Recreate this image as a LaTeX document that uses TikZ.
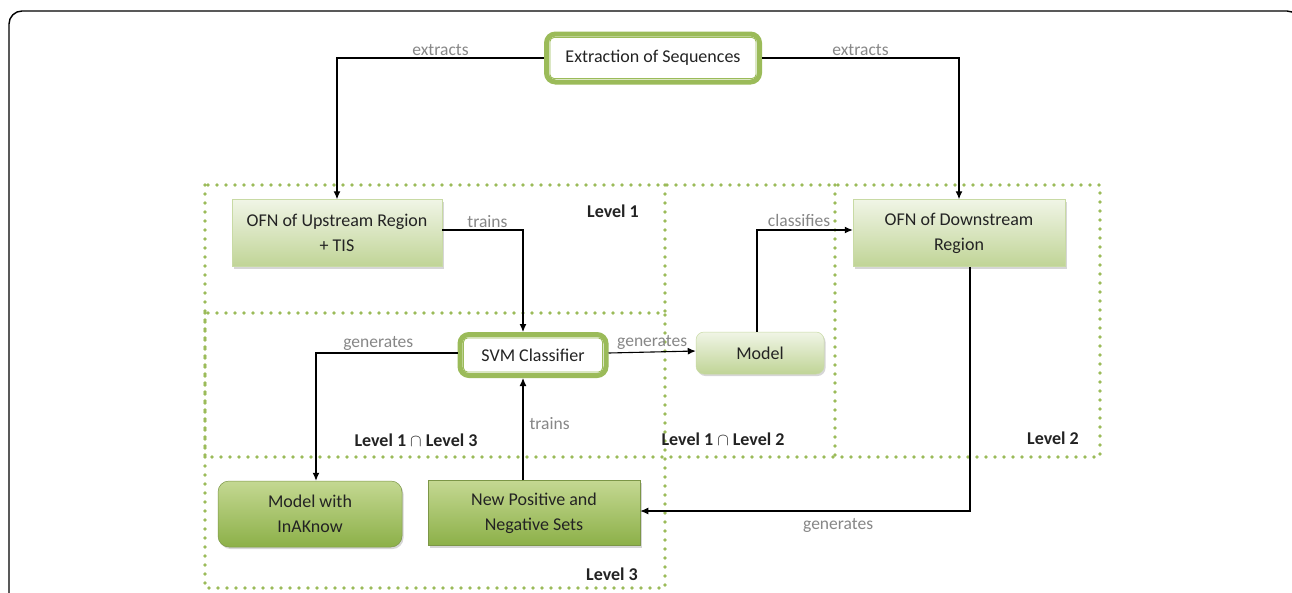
\documentclass[tikz,border=0pt]{standalone}
\usepackage{fontspec}
\setmainfont{Carlito}
\usetikzlibrary{shadows,arrows.meta}
\definecolor{ogreen}{RGB}{155,187,89}
\definecolor{lgA}{RGB}{240,245,230}
\definecolor{lgB}{RGB}{192,212,150}
\definecolor{dgA}{RGB}{196,216,146}
\definecolor{dgB}{RGB}{140,176,72}
\definecolor{lblgray}{RGB}{135,135,135}
\definecolor{txt}{RGB}{35,35,35}
\begin{document}
\begin{tikzpicture}[x=1pt,y=-1pt,
  font=\fontsize{18}{25}\selectfont,
  every node/.style={text=txt},
  shad/.style={drop shadow={shadow xshift=1.5pt,shadow yshift=-2pt,opacity=0.35,fill=black!45}},
  dblbox/.style={draw=ogreen,line width=5pt,fill=white,rounded corners=9pt,inner sep=0pt,align=center},
  innerline/.style={draw=ogreen,line width=0.9pt,rounded corners=4pt},
  lightbox/.style={shad,draw=ogreen!55,line width=0.5pt,top color=lgA,bottom color=lgB,inner sep=0pt,align=center},
  darkbox/.style={shad,draw=ogreen!80!black,line width=0.5pt,top color=dgA,bottom color=dgB,inner sep=0pt,align=center},
  conn/.style={draw=black,line width=1.1pt,-{Latex[length=8pt,width=7pt]}},
  lbl/.style={text=lblgray,font=\fontsize{17.5}{20}\selectfont,inner sep=2pt},
  lvl/.style={font=\fontsize{18}{21}\selectfont\bfseries,text=txt,inner sep=0pt},
  dots/.style={draw=ogreen,line width=3.6pt,line cap=round,dash pattern=on 0pt off 9pt}
]
\useasboundingbox (0,0) rectangle (1292,592);
\clip (0,0) rectangle (1292,592);
\fill[white] (0,0) rectangle (1292,592);
% outer frame
\draw[line width=1.4pt,rounded corners=13pt] (9,640) -- (9,11) -- (1300,11) -- (1300,640);

% dotted regions
\draw[dots] (205,185) rectangle (1100,457);
\draw[dots] (205,313) rectangle (665,588);
\draw[dots] (665,185) -- (665,313);
\draw[dots] (835,185) -- (835,457);

% level labels
\node[lvl] (l1) at (613,211) {Level 1};
\node[lvl] (l13) at (416,440) {Level 1 $\cap$ Level 3};
\node[lvl] (l12) at (723,439) {Level 1 $\cap$ Level 2};
\node[lvl] (l2) at (1053,438) {Level 2};
\node[lvl] (l3) at (612,574) {Level 3};

% nodes
\node[dblbox,minimum width=213pt,minimum height=48pt] (ext) at (653,58) {Extraction of Sequences};
\draw[innerline] ([shift={(6pt,-6pt)}]ext.north west) rectangle ([shift={(-6pt,6pt)}]ext.south east);
\node[lightbox,minimum width=210pt,minimum height=67pt] (ofnup) at (337,233) {OFN of Upstream Region\\+ TIS};
\node[lightbox,minimum width=212pt,minimum height=67pt] (ofndn) at (959,233) {OFN of Downstream\\Region};
\node[dblbox,minimum width=146pt,minimum height=41pt] (svm) at (533,355) {SVM Classifier};
\draw[innerline] ([shift={(6pt,-6pt)}]svm.north west) rectangle ([shift={(-6pt,6pt)}]svm.south east);
\node[lightbox,rounded corners=8pt,minimum width=128pt,minimum height=42pt] (model) at (760,353) {Model};
\node[darkbox,rounded corners=11pt,minimum width=184pt,minimum height=66pt] (inak) at (310,514) {Model with\\InAKnow};
\node[darkbox,minimum width=212pt,minimum height=65pt] (newps) at (534,513) {New Positive and\\Negative Sets};

% connectors
\coordinate (cx) at (523,0);
\draw[conn] (ext.west) -| node[lbl,pos=0.25,above] {extracts} (ofnup.north);
\draw[conn] (ext.east) -| node[lbl,pos=0.25,above] {extracts} (ofndn.north);
\draw[conn] ([yshift=3pt]ofnup.east) -| node[lbl,pos=0.28,above] {trains} (svm.north -| cx);
\draw[conn] ([yshift=2pt]svm.west) -| node[lbl,pos=0.28,above] {generates} ([xshift=6pt]inak.north);
\draw[conn] ([yshift=2pt]svm.east) -- node[lbl,above] {generates} ([yshift=2pt]model.west);
\draw[conn] ([xshift=-3pt]model.north) |- node[lbl,pos=0.72,above,yshift=1pt] {classifies} ([yshift=3pt]ofndn.west);
\draw[conn] ([xshift=11pt]ofndn.south) |- node[lbl,pos=0.7,below,yshift=-5pt] {generates} ([yshift=2pt]newps.east);
\draw[conn] (newps.north -| cx) -- node[lbl,right,pos=0.55,xshift=4pt] {trains} (svm.south -| cx);
\end{tikzpicture}
\end{document}
